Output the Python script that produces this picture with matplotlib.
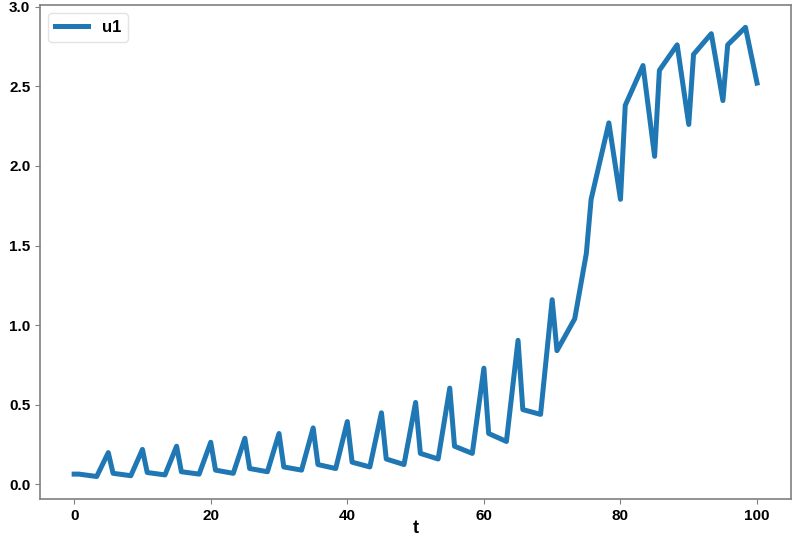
import matplotlib
matplotlib.use("Agg")
import matplotlib.pyplot as plt

t = [0, 0.7, 3.3, 5, 5.7, 8.3, 10, 10.7, 13.3, 15, 15.7, 18.3, 20, 20.7, 23.3,
     25, 25.7, 28.3, 30, 30.7, 33.3, 35, 35.7, 38.3, 40, 40.7, 43.3, 45, 45.7, 48.3,
     50, 50.7, 53.3, 55, 55.7, 58.3, 60, 60.7, 63.3, 65, 65.7, 68.3, 70, 70.7, 73.3,
     75, 75.7, 78.3, 80, 80.7, 83.3, 85, 85.7, 88.3, 90, 90.7, 93.3, 95, 95.7, 98.3, 100]
u1 = [0.065, 0.065, 0.05, 0.2, 0.07, 0.055, 0.22, 0.075, 0.06, 0.24, 0.08, 0.065,
      0.265, 0.09, 0.07, 0.29, 0.10, 0.08, 0.32, 0.11, 0.09, 0.355, 0.125, 0.10,
      0.395, 0.14, 0.11, 0.45, 0.16, 0.125, 0.515, 0.195, 0.16, 0.605, 0.24, 0.195,
      0.73, 0.32, 0.27, 0.905, 0.47, 0.44, 1.16, 0.84, 1.04, 1.45, 1.79, 2.27, 1.79,
      2.38, 2.63, 2.06, 2.6, 2.76, 2.26, 2.7, 2.83, 2.41, 2.76, 2.87, 2.52]

plt.rcParams['font.family'] = ['Liberation Sans', 'DejaVu Sans']
plt.rcParams['font.weight'] = 'bold'

fig = plt.figure(figsize=(8, 5.4), dpi=100)
ax = fig.add_axes([0.05, 0.076, 0.939, 0.915])
ax.plot(t, u1, color='#1f77b4', lw=3.6, label='u1')

for s in ax.spines.values():
    s.set_color('#808080')
    s.set_linewidth(1.2)
ax.tick_params(axis='both', labelsize=11, color='#808080', length=3.5)
for lab in ax.get_xticklabels() + ax.get_yticklabels():
    lab.set_fontweight('bold')
ax.set_xlabel('t', fontsize=13, fontweight='bold', labelpad=-2)
leg = ax.legend(loc='upper left', fontsize=12, frameon=True)
leg.get_frame().set_edgecolor('#dddddd')
for txt in leg.get_texts():
    txt.set_fontweight('bold')

fig.savefig('out.png', dpi=100)
